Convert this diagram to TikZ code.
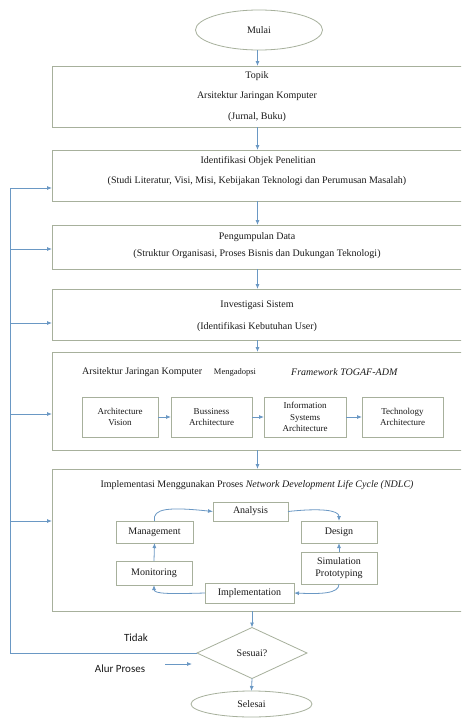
\documentclass[tikz,border=0pt]{standalone}
\usepackage{fontspec}
\setmainfont{Liberation Serif}
\newfontfamily\calib{Carlito}
\usetikzlibrary{arrows.meta,shapes.geometric}
\definecolor{boxc}{HTML}{A7B09C}
\definecolor{arrc}{HTML}{6A98C4}
\definecolor{txtc}{HTML}{1A1A1A}
\begin{document}
\begin{tikzpicture}[x=1pt,y=-1pt,
  every node/.style={text=txtc, font=\fontsize{10}{11}\selectfont},
  bigbox/.style={draw=boxc, line width=0.9pt, inner sep=0pt, outer sep=0pt, minimum width=411pt},
  smallbox/.style={draw=boxc, line width=0.8pt, inner sep=0pt, outer sep=0pt, align=center},
  oval/.style={draw=boxc, line width=0.8pt, ellipse, inner sep=0pt, outer sep=0pt},
  flow/.style={draw=arrc, line width=0.8pt, -{Latex[length=5pt,width=4pt]}},
  plain/.style={draw=arrc, line width=0.8pt},
  lbl/.style={inner sep=0pt, anchor=center},
  togaf/.style={font=\fontsize{9}{11.5}\selectfont},
  sans/.style={font=\calib\fontsize{11}{12}\selectfont}
]
\useasboundingbox (0,0) rectangle (461,720);
\clip (0,0) rectangle (461,720);
\fill[white] (0,0) rectangle (461,720);

% start
\node[oval, minimum width=127pt, minimum height=40pt] (mulai) at (259,30) {Mulai};

% big boxes
\node[bigbox, minimum height=61pt] (topik) at (257.5,96.5) {};
\node[lbl] (t1) at (257,76) {Topik};
\node[lbl] (t2) at (257,96.5) {Arsitektur Jaringan Komputer};
\node[lbl] (t3) at (257,117) {(Jurnal, Buku)};

\node[bigbox, minimum height=51pt] (ident) at (257.5,175.5) {};
\node[lbl] (i1) at (258,161) {Identifikasi Objek Penelitian};
\node[lbl] (i2) at (257,181) {(Studi Literatur, Visi, Misi, Kebijakan Teknologi dan Perumusan Masalah)};

\node[bigbox, minimum height=44pt] (pengum) at (257.5,247) {};
\node[lbl] (p1) at (257,237) {Pengumpulan Data};
\node[lbl] (p2) at (257,254) {(Struktur Organisasi, Proses Bisnis dan Dukungan Teknologi)};

\node[bigbox, minimum height=51pt] (invest) at (257.5,314.5) {};
\node[lbl] (v1) at (257,305) {Investigasi Sistem};
\node[lbl] (v2) at (257,327) {(Identifikasi Kebutuhan User)};

\node[bigbox, minimum height=98pt] (arsjk) at (257.5,401) {};
\node[lbl, anchor=west] (a1) at (82,372) {Arsitektur Jaringan Komputer};
\node[lbl, font=\fontsize{8.5}{10}\selectfont] (a2) at (235,372) {Mengadopsi};
\node[lbl, anchor=east] (a3) at (398,372) {\textit{Framework TOGAF-ADM}};
\node[smallbox, togaf, minimum width=76pt, minimum height=40pt] (av) at (120,417) {Architecture\\Vision};
\node[smallbox, togaf, minimum width=81pt, minimum height=40pt] (ba) at (211.5,417) {Bussiness\\Architecture};
\node[smallbox, togaf, minimum width=82pt, minimum height=40pt] (isa) at (305,417) {Information\\Systems\\Architecture};
\node[smallbox, togaf, minimum width=81pt, minimum height=40pt] (ta) at (402.5,417) {Technology\\Architecture};

\node[bigbox, minimum height=142pt] (ndlc) at (257.5,540) {};
\node[lbl] (n1) at (257,485) {Implementasi Menggunakan Proses \textit{Network Development Life Cycle (NDLC)}};
\node[smallbox, minimum width=75pt, minimum height=19pt] (ana) at (250.5,511.5) {Analysis};
\node[smallbox, minimum width=77pt, minimum height=22pt] (mgmt) at (154.5,532) {Management};
\node[smallbox, minimum width=76pt, minimum height=22pt] (des) at (339,532) {Design};
\node[smallbox, minimum width=76pt, minimum height=32pt, font=\fontsize{10}{12.5}\selectfont] (sim) at (339,568) {Simulation\\Prototyping};
\node[smallbox, minimum width=76pt, minimum height=24pt] (mon) at (154,573) {Monitoring};
\node[smallbox, minimum width=89pt, minimum height=20pt] (impl) at (249.5,593) {Implementation};

% decision and end
\node[draw=boxc, line width=0.8pt, diamond, inner sep=0pt, outer sep=0pt, minimum width=110pt, minimum height=51pt] (dia) at (252,653) {Sesuai?};
\node[oval, minimum width=121pt, minimum height=26pt] (sel) at (251.5,704) {Selesai};

% main flow
\draw[flow] (mulai.south -| topik.north) -- (topik.north);
\draw[flow] (topik.south) -- (ident.north);
\draw[flow] (ident.south) -- (pengum.north);
\draw[flow] (pengum.south) -- (invest.north);
\draw[flow] (invest.south) -- (arsjk.north);
\draw[flow] (arsjk.south) -- (ndlc.north);
\draw[flow] (dia.north |- ndlc.south) -- (dia.north);
\draw[flow] (dia.south) -- (sel.north);

% TOGAF arrows
\draw[flow] (av.east) -- (ba.west);
\draw[flow] (ba.east) -- (isa.west);
\draw[flow] (isa.east) -- (ta.west);

% NDLC cycle
\draw[flow] (mgmt.north) .. controls (152,508) and (170,507) .. (ana.west);
\draw[flow] (ana.east) .. controls (320,508) and (339,510) .. (des.north);
\draw[flow] (sim.north) -- (des.south);
\draw[flow] (sim.south) .. controls (339,594) and (320,594) .. (impl.east);
\draw[flow] (impl.west) .. controls (170,594) and (154,594) .. (mon.south);
\draw[flow] (mon.north) -- (mgmt.south);

% feedback
\coordinate (fbb) at (10,653);
\coordinate (f1) at (10,188);
\coordinate (f2) at (10,249);
\coordinate (f3) at (10,323);
\coordinate (f4) at (10,414);
\coordinate (f5) at (10,521);
\draw[plain] (dia.west) -- (fbb) -- (f1);
\draw[flow] (f1) -- (ident.west |- f1);
\draw[flow] (f2) -- (pengum.west |- f2);
\draw[flow] (f3) -- (invest.west |- f3);
\draw[flow] (f4) -- (arsjk.west |- f4);
\draw[flow] (f5) -- (ndlc.west |- f5);

% labels
\node[lbl, sans] (tidak) at (136,638) {Tidak};
\node[lbl, sans] (alur) at (120,669) {Alur Proses};
\coordinate (lg1) at (165,664);
\coordinate (lg2) at (192,664);
\draw[flow] (lg1) -- (lg2);
\end{tikzpicture}
\end{document}
